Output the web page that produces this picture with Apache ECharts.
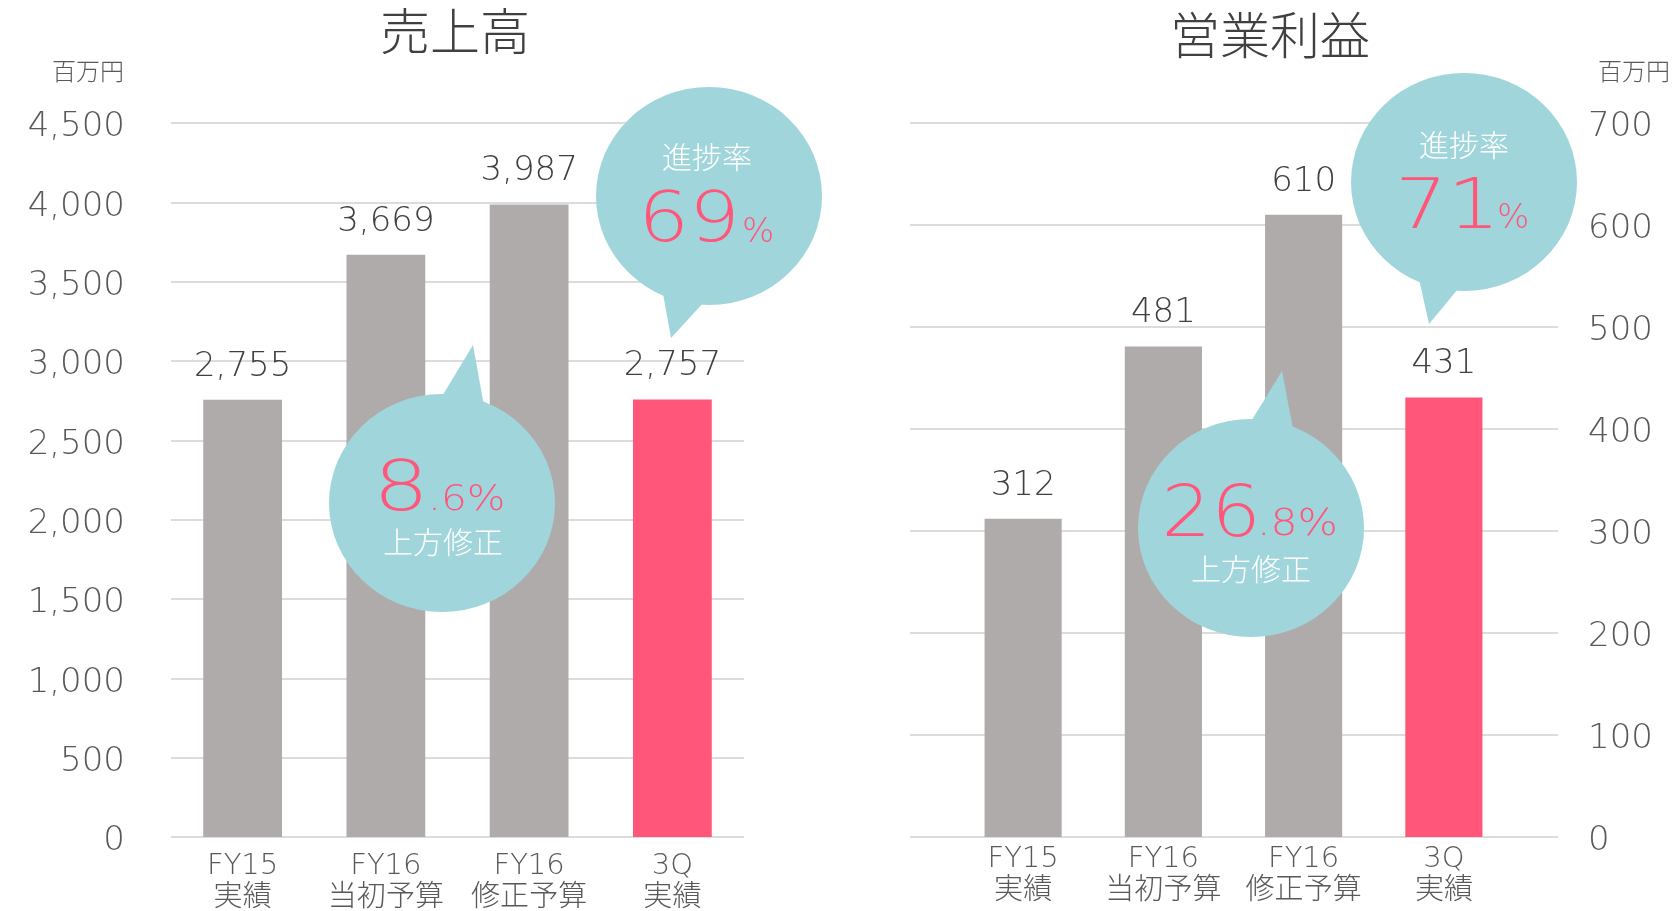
<!DOCTYPE html>
<html>
<head>
<meta charset="utf-8">
<script src="https://cdn.jsdelivr.net/npm/echarts@6/dist/echarts.min.js"></script>
<style>
  html, body { margin: 0; padding: 0; background: #ffffff; }
  #chart { width: 1680px; height: 911px; }
</style>
</head>
<body>
<div id="chart"></div>
<script>
// ---- data ----
const categories = ['FY15\n実績', 'FY16\n当初予算', 'FY16\n修正予算', '3Q\n実績'];
const salesValues = [2755, 3669, 3987, 2757];
const profitValues = [312, 481, 610, 431];
const salesAxis = { min: 0, max: 4500, interval: 500 };
const profitAxis = { min: 0, max: 700, interval: 100 };
const titles = ['売上高', '営業利益'];
const unitLabel = '百万円';
const salesProgress = { label: '進捗率', big: '69', small: '%' };
const salesRevision = { big: '8', small: '.6%', label: '上方修正' };
const profitProgress = { label: '進捗率', big: '71', small: '%' };
const profitRevision = { big: '26', small: '.8%', label: '上方修正' };
const highlightIndex = 3;

// ---- styles ----
const GRAY = '#AFABAB';
const PINK = '#FF567A';
const BUBBLE = '#A0D6DB';
const GRID = '#DCDCDC';
const TXT = '#404040';
const AXT = '#595959';
const NUM = "'DejaVu Sans ExtraLight', 'DejaVu Sans', 'Noto Sans CJK JP', sans-serif";
const CJK = "'Noto Sans CJK JP', sans-serif";

const fmt = v => Number(v).toLocaleString('en-US');
const barColor = p => p.dataIndex === highlightIndex ? PINK : GRAY;

function bubble(cx, cy, tail) {
  const RX = 113, RY = 109;
  return [
    { type: 'circle', x: cx, y: cy, scaleX: RX / RY, shape: { cx: 0, cy: 0, r: RY }, style: { fill: BUBBLE }, z: 100 },
    { type: 'polygon', shape: { points: tail }, style: { fill: BUBBLE }, z: 100 }
  ];
}
function txt(x, y, text, size, color, align, family, weight, sx) {
  return {
    type: 'text', x: x, y: y, z: 110, scaleX: sx || 1,
    style: { text: text, fill: color, fontSize: size, fontFamily: family, fontWeight: weight,
             align: align, verticalAlign: 'middle' }
  };
}

const chart = echarts.init(document.getElementById('chart'));
const labelCommon = { fontFamily: NUM, fontWeight: 200, color: TXT };
const xLabel = { interval: 0, fontSize: 29, lineHeight: 32, color: AXT, fontFamily: NUM, fontWeight: 200 };
const yTickRich = { v: { fontSize: 34, color: AXT, fontFamily: NUM, fontWeight: 200, padding: [9, 0, 0, 0] } };
const yTickFmt = v => '{v|' + fmt(v) + '}';

chart.setOption({
  backgroundColor: '#ffffff',
  animation: false,
  title: [
    { text: titles[0], left: 450, top: 1, textAlign: 'center',
      textStyle: { fontSize: 50, fontWeight: 300, color: TXT, fontFamily: CJK } },
    { text: titles[1], left: 1265, top: 5, textAlign: 'center',
      textStyle: { fontSize: 50, fontWeight: 300, color: TXT, fontFamily: CJK } }
  ],
  grid: [
    { left: 171, width: 573, top: 123, height: 714, outerBoundsMode: 'none', containLabel: false },
    { left: 910, width: 648, top: 123, height: 714, outerBoundsMode: 'none', containLabel: false },
    { left: 953, width: 561, top: 123, height: 714, outerBoundsMode: 'none', containLabel: false }
  ],
  xAxis: [
    { type: 'category', gridIndex: 0, data: categories,
      axisLine: { show: false }, axisTick: { show: false },
      axisLabel: Object.assign({ margin: 13 }, xLabel) },
    { type: 'category', gridIndex: 1, data: categories, show: false },
    { type: 'category', gridIndex: 2, data: categories,
      axisLine: { show: false }, axisTick: { show: false },
      axisLabel: Object.assign({ margin: 6 }, xLabel) }
  ],
  yAxis: [
    { type: 'value', gridIndex: 0, min: salesAxis.min, max: salesAxis.max, interval: salesAxis.interval,
      name: unitLabel, nameLocation: 'end', nameGap: 52,
      nameTextStyle: { fontSize: 24, color: AXT, fontFamily: CJK, fontWeight: 300,
                       align: 'right', verticalAlign: 'middle', padding: [0, 47, 0, 0] },
      axisLine: { show: false, onZero: false }, axisTick: { show: false },
      splitLine: { lineStyle: { color: GRID, width: 2 } },
      axisLabel: { margin: 46, fontSize: 34, color: AXT, fontFamily: NUM, fontWeight: 200,
                   formatter: yTickFmt, rich: yTickRich } },
    { type: 'value', gridIndex: 1, position: 'right', min: profitAxis.min, max: profitAxis.max, interval: profitAxis.interval,
      name: unitLabel, nameLocation: 'end', nameGap: 52,
      nameTextStyle: { fontSize: 24, color: AXT, fontFamily: CJK, fontWeight: 300,
                       align: 'left', verticalAlign: 'middle', padding: [0, 0, 0, 40] },
      axisLine: { show: false, onZero: false }, axisTick: { show: false },
      splitLine: { lineStyle: { color: GRID, width: 2 } },
      axisLabel: { margin: 30, fontSize: 34, color: AXT, fontFamily: NUM, fontWeight: 200,
                   formatter: yTickFmt, rich: yTickRich } },
    { type: 'value', gridIndex: 2, show: false, min: profitAxis.min, max: profitAxis.max, interval: profitAxis.interval,
      splitLine: { show: false } }
  ],
  series: [
    { type: 'bar', xAxisIndex: 0, yAxisIndex: 0, data: salesValues, barWidth: '55%',
      itemStyle: { color: barColor },
      label: Object.assign({ show: true, position: 'top', distance: 16, fontSize: 34,
                             formatter: p => fmt(p.value) }, labelCommon) },
    { type: 'bar', xAxisIndex: 2, yAxisIndex: 2, data: profitValues, barWidth: '55%',
      itemStyle: { color: barColor },
      label: Object.assign({ show: true, position: 'top', distance: 16, fontSize: 34,
                             formatter: p => fmt(p.value) }, labelCommon) }
  ],
  graphic: [].concat(
    bubble(709, 196, [[662, 288], [704, 302], [671, 338]]),
    bubble(442, 503, [[441, 398], [484, 406], [473, 345]]),
    bubble(1464, 182, [[1419, 279], [1458, 289], [1429, 324]]),
    bubble(1251, 528, [[1250, 423], [1293, 429], [1282, 371]]),
    [
      txt(707, 157, salesProgress.label, 30, '#ffffff', 'center', CJK, 300),
      txt(740, 223, salesProgress.big, 69, PINK, 'right', NUM, 200, 1.16),
      txt(742, 233, salesProgress.small, 34, PINK, 'left', NUM, 200),

      txt(429, 492, salesRevision.big, 70, PINK, 'right', NUM, 200, 1.25),
      txt(428, 501, salesRevision.small, 36, PINK, 'left', NUM, 200, 1.13),
      txt(443, 542, salesRevision.label, 30, '#ffffff', 'center', CJK, 300),

      txt(1464, 145, profitProgress.label, 30, '#ffffff', 'center', CJK, 300),
      txt(1500, 210, profitProgress.big, 70, PINK, 'right', NUM, 200, 1.18),
      txt(1497, 219, profitProgress.small, 34, PINK, 'left', NUM, 200),

      txt(1261, 518, profitRevision.big, 71, PINK, 'right', NUM, 200, 1.1),
      txt(1257, 525, profitRevision.small, 38, PINK, 'left', NUM, 200, 1.12),
      txt(1251, 569, profitRevision.label, 30, '#ffffff', 'center', CJK, 300)
    ]
  )
});
</script>
</body>
</html>
